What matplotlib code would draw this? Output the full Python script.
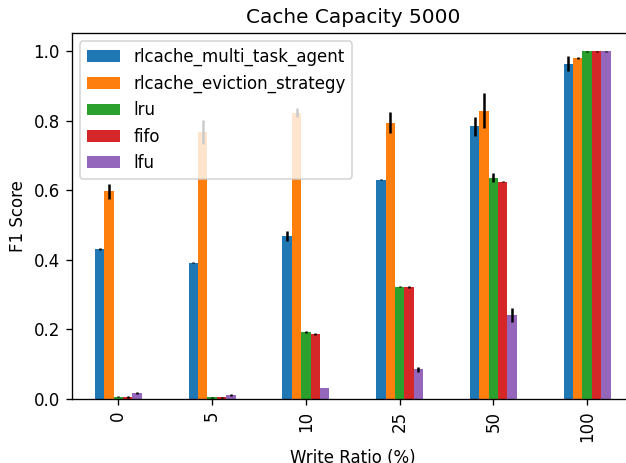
import matplotlib
matplotlib.use("Agg")
import matplotlib.pyplot as plt
import numpy as np

categories = ["0", "5", "10", "25", "50", "100"]
series_names = ["rlcache_multi_task_agent", "rlcache_eviction_strategy", "lru", "fifo", "lfu"]
multi_task = [0.432, 0.392, 0.470, 0.631, 0.784, 0.965]
multi_task_err = [0.002, 0.001, 0.014, 0.001, 0.026, 0.022]
eviction = [0.597, 0.769, 0.824, 0.795, 0.830, 0.980]
eviction_err = [0.022, 0.035, 0.014, 0.031, 0.050, 0.003]
lru = [0.007, 0.005, 0.193, 0.323, 0.637, 1.000]
lru_err = [0.002, 0.001, 0.002, 0.002, 0.012, 0.002]
fifo = [0.006, 0.005, 0.187, 0.323, 0.625, 1.000]
fifo_err = [0.002, 0.001, 0.003, 0.003, 0.002, 0.002]
lfu = [0.017, 0.012, 0.032, 0.086, 0.242, 1.000]
lfu_err = [0.002, 0.002, 0.001, 0.007, 0.021, 0.002]

values = [multi_task, eviction, lru, fifo, lfu]
errors = [multi_task_err, eviction_err, lru_err, fifo_err, lfu_err]
colors = ["#1f77b4", "#ff7f0e", "#2ca02c", "#d62728", "#9467bd"]

DPI = 120
fig = plt.figure(figsize=(626 / DPI, 463 / DPI), dpi=DPI)
ax = fig.add_axes([71.5 / 626, (463 - 399) / 463, (634 - 71.5) / 626, (399 - 33) / 463])

x = np.arange(len(categories))
n = len(values)
w = 0.5 / n
for i, (v, e, c, name) in enumerate(zip(values, errors, colors, series_names)):
    offs = (i - (n - 1) / 2) * w
    ax.bar(x + offs, v, width=w, color=c, label=name, yerr=e,
           error_kw=dict(ecolor="black", elinewidth=1.5, capsize=0))

ax.set_xlim(-0.5, len(categories) - 0.5)
ax.set_ylim(0, 1.053)
ax.set_xticks(x)
ax.set_xticklabels(categories, rotation=90)
ax.set_yticks([0.0, 0.2, 0.4, 0.6, 0.8, 1.0])
ax.set_ylabel("F1 Score")
ax.set_xlabel("Write Ratio (%)")
ax.set_title("Cache Capacity 5000")
ax.legend(loc="upper left")

fig.savefig("out.png", dpi=DPI)
